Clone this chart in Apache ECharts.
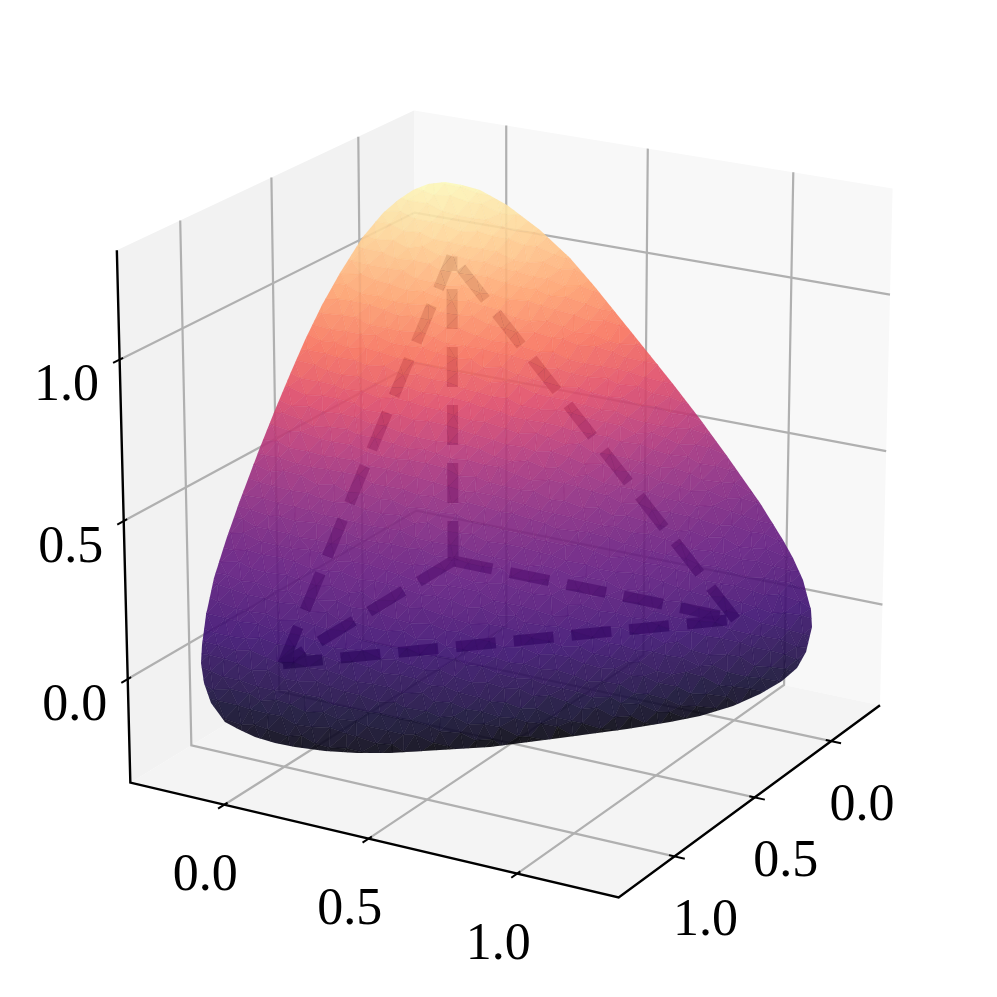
<!DOCTYPE html>
<html><head><meta charset="utf-8">
<style>html,body{margin:0;padding:0;background:#fff}#c{width:997px;height:997px}</style>
<script src="https://cdn.jsdelivr.net/npm/echarts@6/dist/echarts.min.js"></script>
</head><body><div id="c"></div>
<script>
// ---- data ----
const axisLimits = [-1/3, 4/3];
const xTicks = [0, 0.5, 1];
const yTicks = [0, 0.5, 1];
const zTicks = [0, 0.5, 1];
const tickLabels = ['0.0', '0.5', '1.0'];
// tetrahedron drawn dashed: vertices and edges (start, end)
const vertO = [0,0,0], vertX = [1,0,0], vertY = [0,1,0], vertZ = [0,0,1];
const tetraEdges = [[vertO,vertZ],[vertY,vertZ],[vertX,vertZ],[vertY,vertX],[vertO,vertX],[vertO,vertY]];
// silhouette of the surface on the picture plane
const outlineX = [445,428,413,398,383,362,340,322,305,291,275,259,239,226,214,206,202,201,204,211,225,238,255,275,295,325,357,390,490,560,627,670,700,733,760,782,797,806,812,811,807,803,793,783,760,727,700,673,645,620,595,570,540,507,480,462];
const outlineY = [182,184,190,200,213,238,273,305,340,372,410,450,503,540,578,615,645,663,683,703,722,729,737,743,747,751,753,753,747,738,729,722,716,706,694,681,668,652,627,610,595,580,558,540,503,456,419,384,349,318,287,258,230,205,190,185];
// surface colour level at the picture height of the surface's middle
const levelY = [170,230,300,390,470,550,600,650,700,730,754];
const levelT = [1.0,0.92,0.80,0.63,0.46,0.33,0.27,0.20,0.13,0.07,0.01];
// magma colormap stops
const magma = [[0,0,4],[20,14,54],[59,15,112],[100,26,128],[140,41,129],[183,55,121],[222,73,104],[247,112,92],[254,159,109],[254,207,146],[252,253,191]];

// ---- camera ----
const AZ = 60*Math.PI/180, EL = 20*Math.PI/180, DIST = 10, SCALE = 558, CX = 511.5, CY = 485.5;
function toBox(v){ return (v-axisLimits[0])/(axisLimits[1]-axisLimits[0])-0.5; }
function projBox(X,Y,Z){
  const u = X*Math.sin(AZ)-Y*Math.cos(AZ);
  const h = X*Math.cos(AZ)+Y*Math.sin(AZ);
  const w = h*Math.cos(EL)+Z*Math.sin(EL);
  const v = -h*Math.sin(EL)+Z*Math.cos(EL);
  const f = DIST/(DIST-w);
  return [CX+SCALE*u*f, CY-SCALE*v*f];
}
function proj(p){ return projBox(toBox(p[0]),toBox(p[1]),toBox(p[2])); }

const GRID='#b0b0b0', lo=axisLimits[0], hi=axisLimits[1];
const pts3 = a => a.map(proj);
function line(api,p,q,style){
  const a=api.coord(p), b=api.coord(q);
  return {type:'line',shape:{x1:a[0],y1:a[1],x2:b[0],y2:b[1]},style:style};
}
// panes
const panes = [
  {c:[[lo,hi,lo],[lo,lo,lo],[lo,lo,hi],[lo,hi,hi]],fill:'#f2f2f2'},
  {c:[[lo,lo,lo],[hi,lo,lo],[hi,lo,hi],[lo,lo,hi]],fill:'#f8f8f8'},
  {c:[[lo,hi,lo],[hi,hi,lo],[hi,lo,lo],[lo,lo,lo]],fill:'#f4f4f4'}
];
// grid polylines
const gridPaths = [];
xTicks.forEach(t=>gridPaths.push([[t,hi,lo],[t,lo,lo],[t,lo,hi]]));
yTicks.forEach(t=>gridPaths.push([[hi,t,lo],[lo,t,lo],[lo,t,hi]]));
zTicks.forEach(t=>gridPaths.push([[lo,hi,t],[lo,lo,t],[hi,lo,t]]));
const axisPaths = [[[lo,hi,hi],[lo,hi,lo],[hi,hi,lo],[hi,lo,lo]]];
const TIN=0.018, TOUT=0.034;
const tickSegs = [];
xTicks.forEach(t=>tickSegs.push([[t,hi-TIN,lo],[t,hi+TOUT,lo]]));
yTicks.forEach(t=>tickSegs.push([[hi-TIN,t,lo],[hi+TOUT,t,lo]]));
zTicks.forEach(t=>tickSegs.push([[lo,hi-TIN,t],[lo,hi+TOUT,t]]));
const labelOffsets = {x:[-19,72], y:[31,65], z:[-53,27]};
const labelItems = [];
xTicks.forEach((t,i)=>labelItems.push({p:[t,hi,lo],o:labelOffsets.x,s:tickLabels[i]}));
yTicks.forEach((t,i)=>labelItems.push({p:[hi,t,lo],o:labelOffsets.y,s:tickLabels[i]}));
zTicks.forEach((t,i)=>labelItems.push({p:[lo,hi,t],o:labelOffsets.z,s:tickLabels[i]}));

// surface helpers
const outline = outlineX.map((x,i)=>[x,outlineY[i]]);
function span(y){
  let l=1e9,r=-1e9;
  for(let i=0;i<outline.length;i++){
    const a=outline[i],b=outline[(i+1)%outline.length];
    if((a[1]-y)*(b[1]-y)<=0 && a[1]!==b[1]){
      const x=a[0]+(y-a[1])/(b[1]-a[1])*(b[0]-a[0]);
      if(x<l)l=x; if(x>r)r=x;
    }
  }
  return [l,r];
}
function levelAt(y){
  if(y<=levelY[0])return levelT[0];
  for(let i=1;i<levelY.length;i++) if(y<=levelY[i]){
    const k=(y-levelY[i-1])/(levelY[i]-levelY[i-1]);
    return levelT[i-1]+k*(levelT[i]-levelT[i-1]);
  }
  return levelT[levelT.length-1];
}
const SAG=0.1, TILT=0.046, ALPHA=0.9;
function tAt(x,y){
  const s=span(y); let hw=(s[1]-s[0])/2, mid=(s[0]+s[1])/2;
  if(!(hw>0)){hw=1;mid=x;}
  const q=Math.min(1,Math.abs(x-mid)/hw);
  return levelAt(y-SAG*hw*(1-q*q)+TILT*(x-500)+SAG*hw);
}
function magmaCol(t){
  t=Math.max(0,Math.min(1,t))*10; const i=Math.min(9,Math.floor(t)),k=t-i,a=magma[i],b=magma[i+1];
  return 'rgba('+[0,1,2].map(j=>Math.round(a[j]+k*(b[j]-a[j]))).join(',')+','+ALPHA+')';
}
// render mesh: a tilted triangular lattice with small fixed offsets, cut by the silhouette
const CELL=16, ROW=14, TWIST=14*Math.PI/180;
const facets=[];
(function(){
  const n=60;
  const v=(c,r)=>{
    const a=(c-n/2)*CELL+(r%2?CELL/2:0), b=(r-n/2)*ROW;
    const o1=Math.sin(c*12.9898+r*78.233)*43758.5453, o2=Math.sin(c*39.346+r*11.135)*24634.6345;
    const ja=(o1-Math.floor(o1)-0.5)*6, jb=(o2-Math.floor(o2)-0.5)*6;
    return [500+(a+ja)*Math.cos(TWIST)-(b+jb)*Math.sin(TWIST),470+(a+ja)*Math.sin(TWIST)+(b+jb)*Math.cos(TWIST)];
  };
  for(let r=0;r<n;r++)for(let c=0;c<n;c++){
    const a=v(c,r),b=v(c+1,r),d=v(c,r+1),e=v(c+1,r+1);
    const tris = r%2 ? [[a,b,e],[a,e,d]] : [[a,b,d],[b,e,d]];
    tris.forEach(t=>{
      const mx=(t[0][0]+t[1][0]+t[2][0])/3,my=(t[0][1]+t[1][1]+t[2][1])/3;
      if(mx>170&&mx<840&&my>160&&my<780)facets.push(t);
    });
  }
})();

const chart=echarts.init(document.getElementById('c'),null,{renderer:'canvas'});
const base={type:'custom',coordinateSystem:'cartesian2d',silent:true,animation:false,clip:false};
function cpoly(api,list){return list.map(p=>api.coord(p));}
chart.setOption({
  animation:false,
  backgroundColor:'#ffffff',
  grid:{left:0,right:0,top:0,bottom:0},
  xAxis:{type:'value',min:0,max:997,show:false},
  yAxis:{type:'value',min:0,max:997,inverse:true,show:false},
  series:[
    Object.assign({},base,{name:'panes',data:panes.map((p,i)=>[i]),encode:{x:0,y:0},
      renderItem:(ps,api)=>{const p=panes[ps.dataIndex];
        return {type:'polygon',shape:{points:cpoly(api,pts3(p.c))},style:{fill:p.fill}};}}),
    Object.assign({},base,{name:'grid',data:gridPaths.map((p,i)=>[i]),encode:{x:0,y:0},
      renderItem:(ps,api)=>({type:'polyline',shape:{points:cpoly(api,pts3(gridPaths[ps.dataIndex]))},
        style:{stroke:GRID,lineWidth:2.2,fill:null}})}),
    Object.assign({},base,{name:'edges',data:tetraEdges.map((p,i)=>[i]),encode:{x:0,y:0},
      renderItem:(ps,api)=>{const s=tetraEdges[ps.dataIndex];
        return line(api,proj(s[0]),proj(s[1]),{stroke:'rgba(20,0,40,0.85)',lineWidth:11,lineDash:[40,18],lineCap:'butt'});}}),
    Object.assign({},base,{name:'surface',data:[[0]],encode:{x:0,y:0},
      renderItem:(ps,api)=>({type:'group',
        clipPath:{type:'polygon',shape:{points:cpoly(api,outline)}},
        children:facets.map(t=>{
          const cx=(t[0][0]+t[1][0]+t[2][0])/3,cy=(t[0][1]+t[1][1]+t[2][1])/3;
          const c=magmaCol(tAt(cx,cy));
          return {type:'polygon',shape:{points:cpoly(api,t)},style:{fill:c,stroke:c,lineWidth:0.3}};
        })})}),
    Object.assign({},base,{name:'axes',data:axisPaths.map((p,i)=>[i]),encode:{x:0,y:0},
      renderItem:(ps,api)=>({type:'polyline',shape:{points:cpoly(api,pts3(axisPaths[ps.dataIndex]))},
        style:{stroke:'#000',lineWidth:2.4,fill:null}})}),
    Object.assign({},base,{name:'ticks',data:tickSegs.map((p,i)=>[i]),encode:{x:0,y:0},
      renderItem:(ps,api)=>{const s=tickSegs[ps.dataIndex];
        return line(api,proj(s[0]),proj(s[1]),{stroke:'#000',lineWidth:2});}}),
    Object.assign({},base,{name:'labels',data:labelItems.map((p,i)=>[i]),encode:{x:0,y:0},
      renderItem:(ps,api)=>{const l=labelItems[ps.dataIndex],q=proj(l.p),c=api.coord([q[0]+l.o[0],q[1]+l.o[1]]);
        return {type:'text',style:{text:l.s,x:c[0],y:c[1],fill:'#000',font:'52px "Liberation Serif"',align:'center',verticalAlign:'middle'}};}})
  ]
});
</script></body></html>
